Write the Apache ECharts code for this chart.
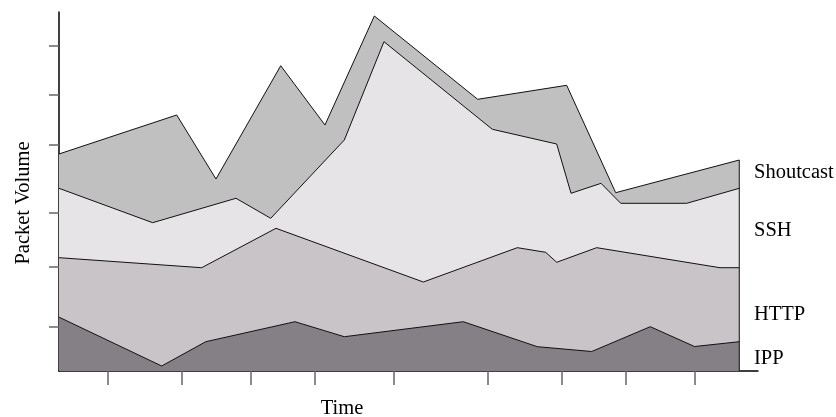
<!DOCTYPE html>
<html>
<head>
<meta charset="utf-8">
<script src="https://cdn.jsdelivr.net/npm/echarts@6/dist/echarts.min.js"></script>
<style>
html,body{margin:0;padding:0;background:#fff;}
#chart{width:836px;height:417px;}
</style>
</head>
<body>
<div id="chart"></div>
<script>
// Cumulative (stacked) boundary of each layer: [time, packet volume]
const ippTop = [[0,15.0],[14.69,1.39],[20.99,8.16],[33.76,13.73],[40.82,9.55],[57.84,13.73],[68.43,6.77],[76.21,5.43],[84.59,12.34],[90.92,6.82],[97.32,8.16]];
const httpTop = [[0,31.56],[20.41,28.77],[31.04,39.75],[52.12,24.79],[65.57,34.35],[69.63,33.06],[71.20,30.28],[76.92,34.35],[94.56,28.77],[97.32,28.77]];
const sshTop = [[0,50.89],[13.40,41.31],[25.32,48.11],[30.29,42.53],[40.82,64.35],[46.49,91.73],[61.99,67.33],[71.20,63.23],[73.25,49.50],[77.54,52.28],[80.36,46.71],[89.80,46.71],[97.32,50.89]];
const shoutcastTop = [[0,60.45],[16.84,71.31],[22.46,53.48],[31.72,85.04],[38.05,68.52],[45.11,98.89],[59.90,75.68],[72.63,79.58],[79.64,49.67],[97.32,58.77]];

const seriesNames = ['Shoutcast','SSH','HTTP','IPP'];
const seriesColors = ['#c0c0c0','#e7e4e8','#c8c4c7','#858085'];
const xTicks = [7.01,17.60,27.42,36.62,47.93,61.33,71.92,81.12,90.94];
const yTicks = [12.34,29.05,44.09,63.15,76.88,90.61];

const boundaries = [shoutcastTop, sshTop, httpTop, ippTop];
const lastX = shoutcastTop[shoutcastTop.length-1][0];
const lastTop = shoutcastTop[shoutcastTop.length-1][1];

const chart = echarts.init(document.getElementById('chart'), null, {renderer:'canvas'});
const font = "'Liberation Serif','Times New Roman',serif";

const series = boundaries.map((d,i)=>({
  name: seriesNames[i],
  type: 'line',
  data: d,
  symbol: 'none',
  smooth: false,
  lineStyle: {color:'#111', width:1},
  areaStyle: {color: seriesColors[i], opacity:1},
  z: 2
}));
series.push({
  name: 'edge',
  type: 'line',
  data: [[lastX,0],[lastX,lastTop]],
  symbol: 'none',
  lineStyle: {color:'#111', width:1},
  z: 3
});

const labelY = [172.5, 231, 315, 359];
const graphics = seriesNames.map((n,i)=>({
  type:'text', x: 754, y: labelY[i],
  style:{text:n, font:'20.5px '+font, fill:'#000', align:'left', verticalAlign:'middle'}
}));
graphics.push({type:'text', x:342, y:409, style:{text:'Time', font:'20.5px '+font, fill:'#000', align:'center', verticalAlign:'middle'}});
graphics.push({type:'text', x:23.5, y:203, rotation: Math.PI/2, style:{text:'Packet Volume', font:'20.5px '+font, fill:'#000', align:'center', verticalAlign:'middle'}});

chart.setOption({
  animation:false,
  backgroundColor:'#fff',
  grid:{left:59, right:78, top:12, bottom:46, containLabel:false},
  xAxis:{
    type:'value', min:0, max:100,
    axisLine:{show:true, lineStyle:{color:'#000', width:1.5}},
    axisTick:{show:true, customValues:xTicks, length:14, lineStyle:{color:'#666', width:1.5}},
    axisLabel:{show:false, customValues:xTicks},
    splitLine:{show:false}
  },
  yAxis:{
    type:'value', min:0, max:100,
    axisLine:{show:true, lineStyle:{color:'#000', width:1.5}},
    axisTick:{show:true, customValues:yTicks, length:10, lineStyle:{color:'#666', width:1.5}},
    axisLabel:{show:false, customValues:yTicks},
    splitLine:{show:false}
  },
  series: series,
  graphic: graphics
});
</script>
</body>
</html>
